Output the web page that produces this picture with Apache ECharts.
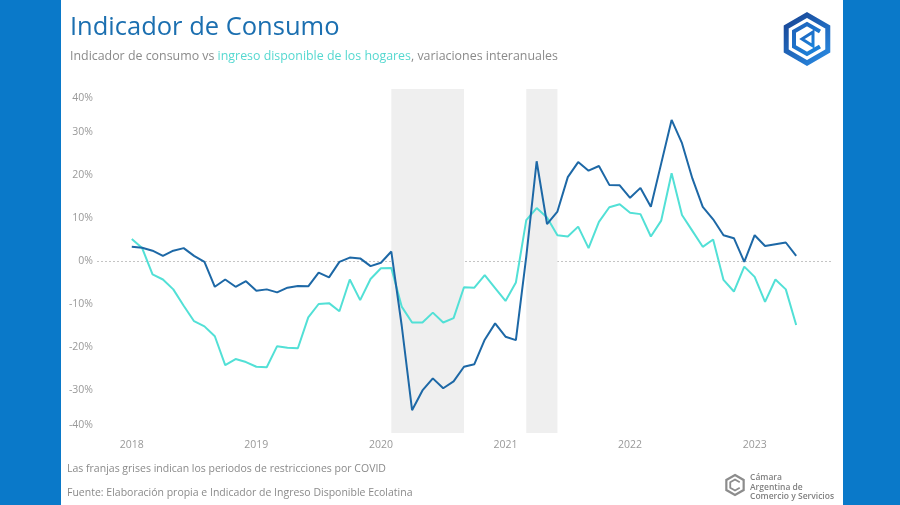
<!DOCTYPE html>
<html><head><meta charset="utf-8">
<script src="https://cdn.jsdelivr.net/npm/echarts@6/dist/echarts.min.js"></script>
<style>html,body{margin:0;padding:0;background:#fff}#c{width:900px;height:505px}</style>
</head><body><div id="c"></div>
<script>
const months = [
 '2018-01','2018-02','2018-03','2018-04','2018-05','2018-06','2018-07','2018-08','2018-09','2018-10','2018-11','2018-12',
 '2019-01','2019-02','2019-03','2019-04','2019-05','2019-06','2019-07','2019-08','2019-09','2019-10','2019-11','2019-12',
 '2020-01','2020-02','2020-03','2020-04','2020-05','2020-06','2020-07','2020-08','2020-09','2020-10','2020-11','2020-12',
 '2021-01','2021-02','2021-03','2021-04','2021-05','2021-06','2021-07','2021-08','2021-09','2021-10','2021-11','2021-12',
 '2022-01','2022-02','2022-03','2022-04','2022-05','2022-06','2022-07','2022-08','2022-09','2022-10','2022-11','2022-12',
 '2023-01','2023-02','2023-03','2023-04','2023-05'
];
const yearLabels = ['2018','2019','2020','2021','2022','2023'];
const consumo = [
 3.3, 3.1, 2.4, 1.2, 2.4, 3.0, 1.2, -0.2, -6.0, -4.3,
 -6.0, -4.7, -6.9, -6.6, -7.3, -6.2, -5.8, -5.9, -2.7, -3.8,
 -0.2, 0.8, 0.6, -1.2, -0.4, 2.2, -15.0, -34.7, -30.1, -27.3,
 -29.6, -28.0, -24.6, -24.0, -18.3, -14.5, -17.6, -18.4, 1.0, 23.2,
 8.6, 11.5, 19.5, 23.0, 21.0, 22.1, 17.7, 17.6, 14.7, 17.0,
 12.6, 22.7, 32.8, 27.4, 19.2, 12.6, 9.7, 6.0, 5.3, -0.2,
 6.0, 3.5, 3.9, 4.3, 1.2
];
const ingreso = [
 5.1, 3.0, -3.1, -4.3, -6.6, -10.4, -14.0, -15.2, -17.5, -24.2,
 -22.8, -23.5, -24.6, -24.7, -19.8, -20.2, -20.3, -13.1, -10.0, -9.8,
 -11.7, -4.3, -9.1, -4.2, -1.7, -1.6, -10.6, -14.3, -14.3, -12.0,
 -14.3, -13.3, -6.1, -6.2, -3.3, -6.3, -9.3, -5.0, 9.5, 12.3,
 10.1, 6.0, 5.7, 8.0, 3.0, 9.1, 12.5, 13.2, 11.2, 10.9,
 5.7, 9.4, 20.4, 10.7, 7.0, 3.3, 5.0, -4.4, -7.1, -1.3,
 -3.7, -9.5, -4.3, -6.6, -14.9
];
const covidBands = [['2020-02','2020-09'], ['2021-03','2021-06']];
const yTicks = [-40, -30, -20, -10, 0, 10, 20, 30, 40];

const FONT = 'Open Sans';
const idx = m => months.indexOf(m);
const pts = arr => arr.map((v, i) => [i, v]);
const yearIdx = yearLabels.map(y => idx(y + '-01'));
const yMin = yTicks[0], yMax = yTicks[yTicks.length - 1];

function hexPts(cx, cy, r, angles) {
  return angles.map(a => [cx + r * Math.cos(a * Math.PI / 180), cy + r * Math.sin(a * Math.PI / 180)]);
}
const cx = 807, cy = 39;
const grad = new echarts.graphic.LinearGradient(0, 0, 1, 1, [
  {offset: 0, color: '#1f5fb8'}, {offset: 1, color: '#1a88e0'}]);
const grad2 = new echarts.graphic.LinearGradient(0, 0, 1, 1, [
  {offset: 0, color: '#17408f'}, {offset: 1, color: '#2a8fe8'}]);
const bx = 735, by = 485;
const lblStyle = {color: '#999', fontSize: 10.5, fontFamily: FONT};

const chart = echarts.init(document.getElementById('c'), null, {renderer: 'canvas'});
chart.setOption({
  animation: false,
  backgroundColor: '#ffffff',
  textStyle: {fontFamily: FONT},
  title: [
    {text: 'Indicador de Consumo', left: 70, top: 15, padding: 0,
     textStyle: {fontFamily: FONT, fontSize: 25.5, fontWeight: 'normal', color: '#1b6fb0'}},
    {text: '{a|Indicador de consumo vs }{b|ingreso disponible de los hogares}{a|, variaciones interanuales}',
     left: 70, top: 50, padding: 0,
     textStyle: {fontWeight: 'normal', rich: {
       a: {fontFamily: FONT, fontSize: 12.4, fontWeight: 'normal', color: '#8a8a8a'},
       b: {fontFamily: FONT, fontSize: 12.4, fontWeight: 'normal', color: '#55d8d0'}}}},
    {text: 'Las franjas grises indican los periodos de restricciones por COVID', left: 67, top: 464, padding: 0,
     textStyle: {fontFamily: FONT, fontSize: 10.5, fontWeight: 'normal', color: '#8a8a8a'}},
    {text: 'Fuente: Elaboración propia e Indicador de Ingreso Disponible Ecolatina', left: 67, top: 488, padding: 0,
     textStyle: {fontFamily: FONT, fontSize: 10.5, fontWeight: 'normal', color: '#8a8a8a'}}
  ],
  graphic: [
    {type: 'rect', shape: {x: 0, y: 0, width: 61, height: 505}, style: {fill: '#0a79c9'}, silent: true},
    {type: 'rect', shape: {x: 843, y: 0, width: 57, height: 505}, style: {fill: '#0a79c9'}, silent: true},
    {type: 'polygon', shape: {points: hexPts(cx, cy, 24, [-90, -30, 30, 90, 150, 210])},
     style: {fill: 'none', stroke: grad2, lineWidth: 5}, silent: true},
    {type: 'polyline', shape: {points: hexPts(cx, cy, 15, [-30, -90, -150, 150, 90, 30])},
     style: {fill: 'none', stroke: grad, lineWidth: 4}, silent: true},
    {type: 'polygon', shape: {points: [[cx - 5, cy], [cx + 6, cy - 7], [cx + 6, cy + 7]]},
     style: {fill: 'none', stroke: grad, lineWidth: 3}, silent: true},
    {type: 'polygon', shape: {points: hexPts(bx, by, 10, [-90, -30, 30, 90, 150, 210])},
     style: {fill: 'none', stroke: '#8c8c8c', lineWidth: 2.2}, silent: true},
    {type: 'polyline', shape: {points: hexPts(bx, by, 5.5, [-30, -90, -150, 150, 90, 30])},
     style: {fill: 'none', stroke: '#8c8c8c', lineWidth: 1.8}, silent: true},
    {type: 'text', x: 750, y: 473, style: {text: 'Cámara\nArgentina de\nComercio y Servicios',
      font: '600 8.5px ' + FONT, fill: '#808080', lineHeight: 9.5}, silent: true}
  ],
  grid: {left: 97, right: 68, top: 89, bottom: 72, containLabel: false},
  xAxis: {
    type: 'value', min: -3.35, max: 67.45,
    axisLine: {show: false}, axisTick: {show: false}, splitLine: {show: false},
    axisLabel: Object.assign({customValues: yearIdx, margin: 7,
      formatter: v => yearLabels[yearIdx.indexOf(Math.round(v))] || ''}, lblStyle)
  },
  yAxis: {
    type: 'value', min: yMin, max: yMax, interval: 10,
    axisLine: {show: false}, axisTick: {show: false},
    axisLabel: {margin: 4,
      formatter: v => v === yMax ? '{top|' + v + '%}' : v === yMin ? '{bot|' + v + '%}' : '{n|' + v + '%}',
      rich: {
        n: lblStyle,
        top: Object.assign({padding: [18, 0, 0, 0]}, lblStyle),
        bot: Object.assign({padding: [0, 0, 16, 0]}, lblStyle)
      }},
    splitLine: {show: true, lineStyle: {type: [2, 2], width: 1,
      color: yTicks.map(t => t === 0 ? '#c4c4c4' : 'rgba(0,0,0,0)')}}
  },
  series: [
    {name: 'Ingreso disponible', type: 'line', data: pts(ingreso), z: 2,
     showSymbol: false, symbol: 'none', lineStyle: {color: '#52e0d6', width: 2}, itemStyle: {color: '#52e0d6'},
     markArea: {silent: true, itemStyle: {color: '#efefef'},
       data: covidBands.map(b => [{xAxis: idx(b[0])}, {xAxis: idx(b[1])}])}},
    {name: 'Consumo', type: 'line', data: pts(consumo), z: 3,
     showSymbol: false, symbol: 'none', lineStyle: {color: '#1d68a6', width: 2}, itemStyle: {color: '#1d68a6'}}
  ]
});
</script>
</body></html>
